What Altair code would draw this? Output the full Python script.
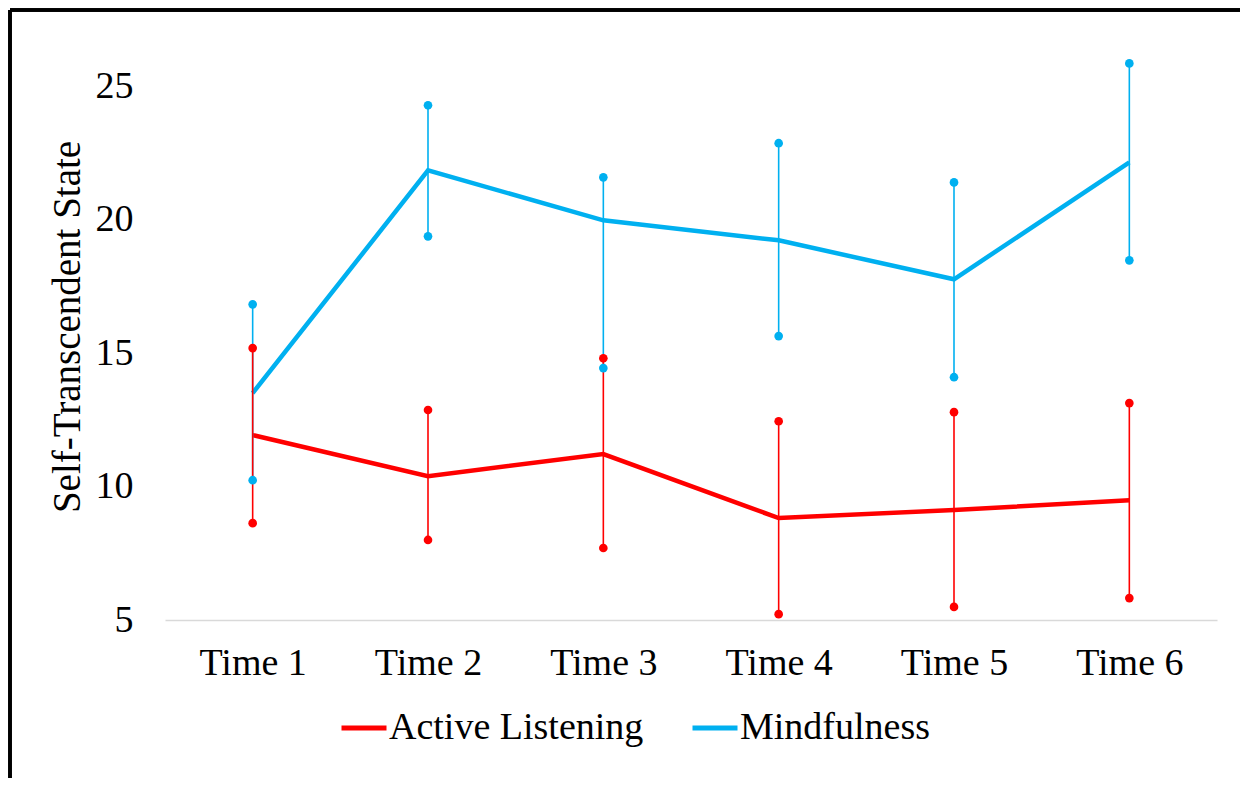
import altair as alt
import pandas as pd

times = ["Time 1", "Time 2", "Time 3", "Time 4", "Time 5", "Time 6"]
series_names = ["Active Listening", "Mindfulness"]

mind_mean = [13.5, 21.85, 19.98, 19.23, 17.77, 22.15]
mind_low = [10.24, 19.38, 14.44, 15.64, 14.10, 18.48]
mind_high = [16.83, 24.29, 21.59, 22.87, 21.40, 25.86]

al_mean = [11.93, 10.39, 11.22, 8.82, 9.12, 9.49]
al_low = [8.63, 8.00, 7.70, 5.22, 5.49, 5.82]
al_high = [15.19, 12.87, 14.81, 12.45, 12.79, 13.13]

rows = []
for name, m, lo, hi in [("Mindfulness", mind_mean, mind_low, mind_high),
                        ("Active Listening", al_mean, al_low, al_high)]:
    for i, t in enumerate(times):
        rows.append({"series": name, "time": t, "mean": m[i], "low": lo[i], "high": hi[i], "order": i})
df = pd.DataFrame(rows)

FONT = "Liberation Serif"
YTITLE = "Self-Transcendent State"
cscale = alt.Scale(domain=series_names, range=["#FF0000", "#00B0F0"])
color = alt.Color(
    "series:N",
    scale=cscale,
    legend=alt.Legend(
        title=None, orient="none", direction="horizontal",
        legendX=174, legendY=670,
        symbolType="stroke", symbolSize=2025, symbolStrokeWidth=5,
        labelFont=FONT, labelFontSize=38, labelColor="black",
        labelOffset=0, columnPadding=38, labelLimit=400,
    ),
)
x = alt.X("time:N", sort=times,
          scale=alt.Scale(type="point", padding=0.5),
          axis=alt.Axis(title=None, ticks=False, labelAngle=0, labelFont=FONT,
                        labelFontSize=38, labelColor="black", labelPadding=24,
                        domainColor="#D9D9D9", domainWidth=1.5, grid=False))
y_scale = alt.Scale(domain=[5, 27], nice=False, zero=False)
y_axis = alt.Axis(title=YTITLE, values=[5, 10, 15, 20, 25],
                  ticks=False, domain=False, grid=False,
                  labelFont=FONT, labelFontSize=38, labelColor="black",
                  labelPadding=32, titleFont=FONT, titleFontSize=39,
                  titleFontWeight="normal", titleColor="black", titlePadding=8)
y = alt.Y("mean:Q", scale=y_scale, axis=y_axis, title=YTITLE)
nolegend = alt.Color("series:N", scale=cscale, legend=None)

base = alt.Chart(df)
rules = base.mark_rule(strokeWidth=1.6).encode(
    x=x, y=alt.Y("low:Q", scale=y_scale, axis=y_axis, title=YTITLE), y2="high:Q",
    color=nolegend, detail="series:N")
lo_pts = base.mark_circle(size=75, opacity=1).encode(
    x=x, y=alt.Y("low:Q", scale=y_scale, axis=y_axis, title=YTITLE), color=nolegend)
hi_pts = base.mark_circle(size=75, opacity=1).encode(
    x=x, y=alt.Y("high:Q", scale=y_scale, axis=y_axis, title=YTITLE), color=nolegend)
line = base.mark_line(strokeWidth=4.5).encode(x=x, y=y, color=color, order="order:Q")

frame_left = base.mark_rule(color="black", strokeWidth=2.5).encode(
    x=alt.value(-155), y=alt.value(-23), y2=alt.value(745))
frame_top = base.mark_rule(color="black", strokeWidth=2.5).encode(
    x=alt.value(-155), x2=alt.value(1075), y=alt.value(-23))

chart = alt.layer(line, rules, lo_pts, hi_pts, frame_left, frame_top).properties(
    width=1052, height=587, padding=0, background="white",
).configure_view(stroke=None)

chart.save("out.html", embed_options={"renderer": "svg", "actions": False})
